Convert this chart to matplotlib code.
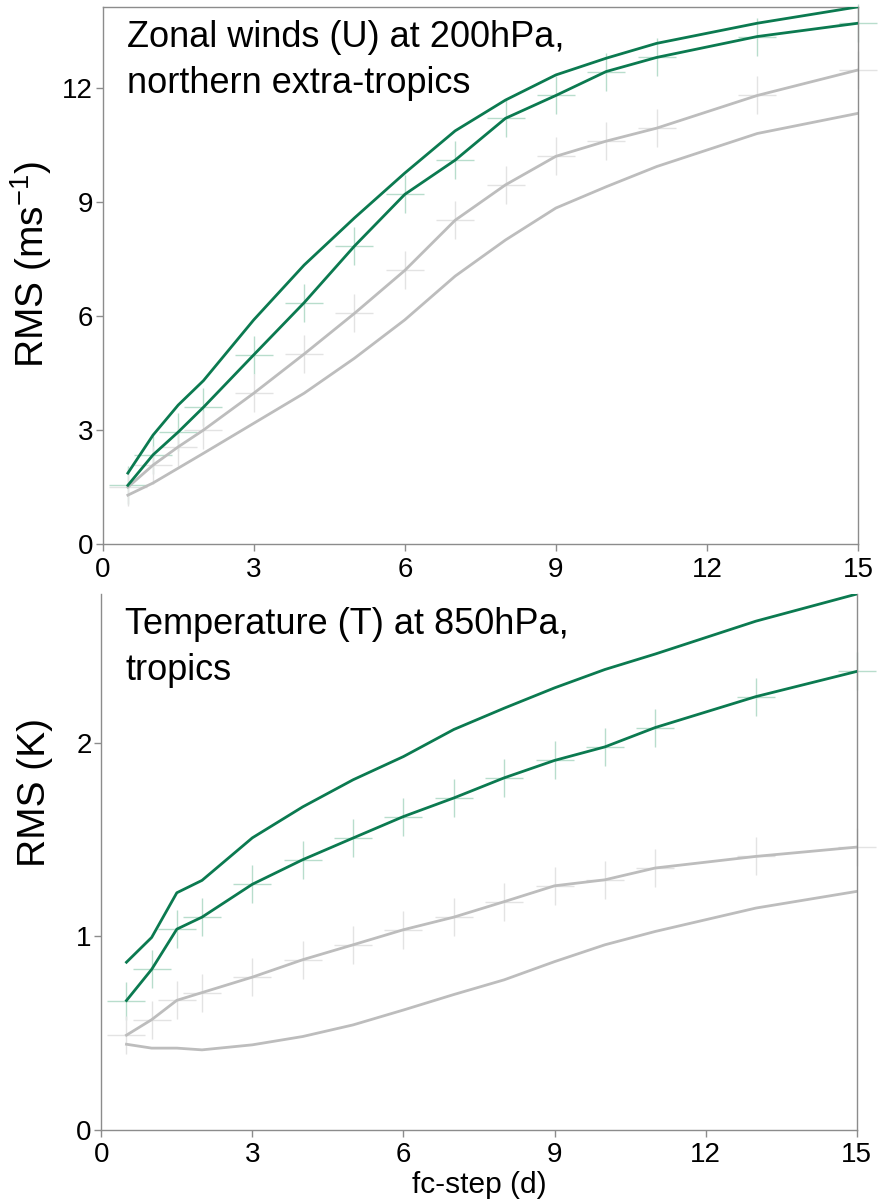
import numpy as np
import matplotlib
matplotlib.use("Agg")
import matplotlib.pyplot as plt

plt.rcParams['font.family'] = ['Liberation Sans', 'DejaVu Sans']
plt.rcParams['mathtext.fontset'] = 'custom'
plt.rcParams['mathtext.rm'] = 'Liberation Sans'
plt.rcParams['mathtext.it'] = 'Liberation Sans:italic'

# forecast steps (days)
steps = [0.5, 1, 1.5, 2, 3, 4, 5, 6, 7, 8, 9, 10, 11, 13, 15]

# zonal wind 200hPa, northern extra-tropics
u_green_hi = [1.87, 2.87, 3.66, 4.3, 5.9, 7.34, 8.58, 9.76, 10.87, 11.68, 12.34, 12.78, 13.17, 13.7, 14.13]
u_green_lo = [1.55, 2.35, 2.95, 3.6, 4.98, 6.35, 7.84, 9.2, 10.1, 11.2, 11.8, 12.43, 12.8, 13.35, 13.7]
u_grey_hi = [1.5, 2.08, 2.56, 3.0, 3.97, 5.0, 6.07, 7.2, 8.52, 9.45, 10.2, 10.6, 10.94, 11.8, 12.47]
u_grey_lo = [1.29, 1.61, 2.0, 2.39, 3.18, 3.97, 4.89, 5.9, 7.05, 8.0, 8.84, 9.4, 9.93, 10.8, 11.33]

# temperature 850hPa, tropics
t_green_hi = [0.867, 0.995, 1.226, 1.29, 1.51, 1.67, 1.81, 1.93, 2.07, 2.18, 2.285, 2.38, 2.46, 2.63, 2.77]
t_green_lo = [0.669, 0.83, 1.038, 1.10, 1.27, 1.397, 1.509, 1.62, 1.716, 1.82, 1.91, 1.98, 2.08, 2.24, 2.37]
t_grey_hi = [0.49, 0.57, 0.67, 0.71, 0.79, 0.88, 0.957, 1.035, 1.1, 1.18, 1.262, 1.293, 1.354, 1.414, 1.462]
t_grey_lo = [0.443, 0.423, 0.423, 0.414, 0.44, 0.483, 0.543, 0.62, 0.70, 0.776, 0.87, 0.957, 1.026, 1.147, 1.233]

green = '#0b7a50'
grey = '#bdbdbd'
green_light = '#b8ddcc'
grey_light = '#e3e3e3'
spine_col = '#8c8c8c'

fig = plt.figure(figsize=(8.8, 12.04), dpi=100)
ax1 = fig.add_axes([0.1167, 0.548, 0.8583, 0.4463])
ax2 = fig.add_axes([0.1151, 0.0615, 0.8584, 0.4451])


def draw(ax, ghi, glo, ahi, alo, ymax, yticks, ylabel, ylab_y, title, top_spine):
    # crosses underneath
    ax.plot(steps, glo, ls='none', marker='+', ms=27, mew=1.0, color=green_light, zorder=1, clip_on=False)
    ax.plot(steps, ahi, ls='none', marker='+', ms=27, mew=1.0, color=grey_light, zorder=1, clip_on=False)
    ax.plot(steps, alo, color=grey, lw=2.0, zorder=2)
    ax.plot(steps, ahi, color=grey, lw=2.0, zorder=2)
    ax.plot(steps, ghi, color=green, lw=2.0, zorder=3)
    ax.plot(steps, glo, color=green, lw=2.0, zorder=3)
    ax.set_xlim(0, 15)
    ax.set_ylim(0, ymax)
    ax.set_xticks([0, 3, 6, 9, 12, 15])
    ax.set_yticks(yticks)
    for s in ['left', 'bottom', 'right', 'top']:
        ax.spines[s].set_color(spine_col)
        ax.spines[s].set_linewidth(1.0)
    ax.spines['top'].set_visible(top_spine)
    ax.tick_params(direction='out', length=5, width=1, color=spine_col, labelsize=20)
    ax.tick_params(axis='x', pad=4)
    ax.tick_params(axis='y', pad=2)
    ax.set_ylabel(ylabel, fontsize=28)
    ax.yaxis.set_label_coords(-0.064, ylab_y)
    ax.text(0.032, 0.975, title, transform=ax.transAxes, fontsize=26, va='top', ha='left', linespacing=1.4)


draw(ax1, u_green_hi, u_green_lo, u_grey_hi, u_grey_lo, 14.13, [0, 3, 6, 9, 12],
     'RMS (ms$^{\\mathregular{-1}}$)', 0.52, 'Zonal winds (U) at 200hPa,\nnorthern extra-tropics', True)
draw(ax2, t_green_hi, t_green_lo, t_grey_hi, t_grey_lo, 2.77, [0, 1, 2],
     'RMS (K)', 0.63, 'Temperature (T) at 850hPa,\ntropics', False)
ax2.set_xlabel('fc-step (d)', fontsize=21.5, labelpad=2)

fig.savefig('out.png', dpi=100)
